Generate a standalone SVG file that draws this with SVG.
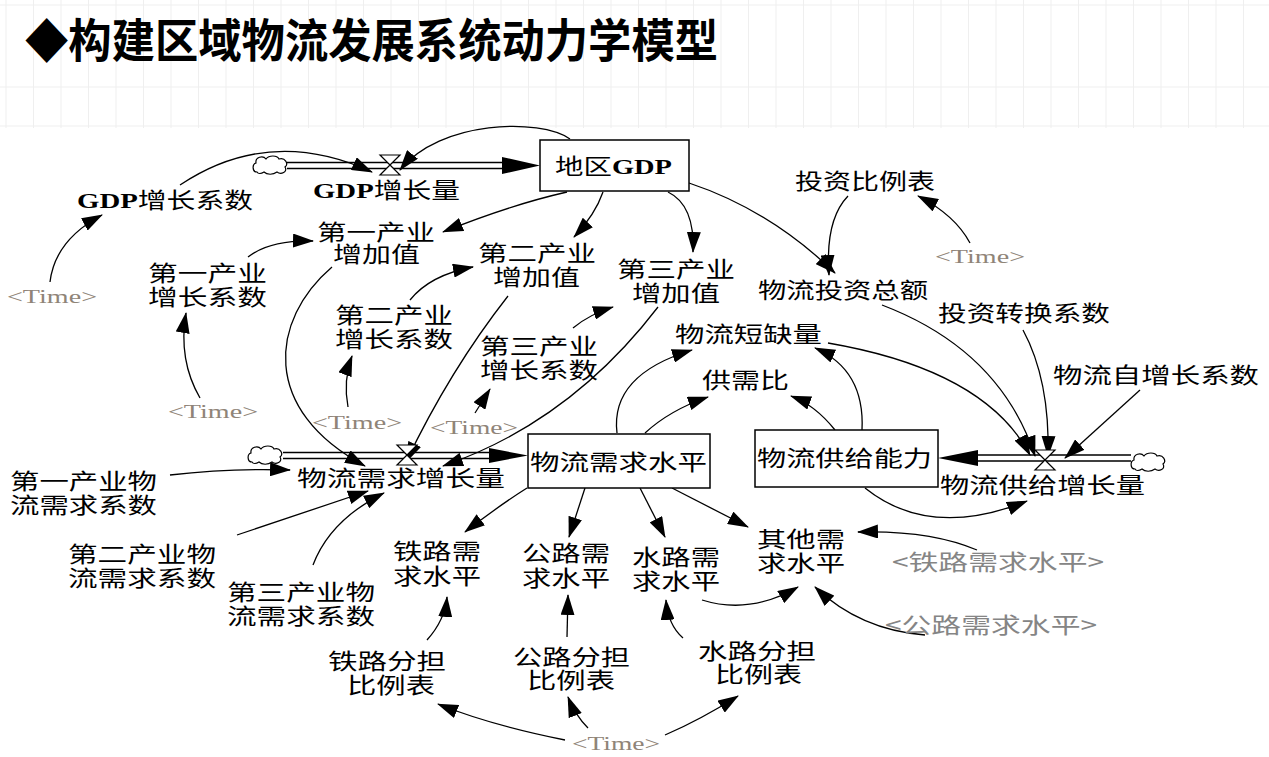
<svg xmlns="http://www.w3.org/2000/svg" width="1269" height="757" viewBox="0 0 1269 757">
<style>
.t{font-family:"Noto Sans CJK SC","Noto Sans",sans-serif;font-size:22px;fill:#000}
.g{font-family:"Liberation Serif","Noto Sans CJK SC",serif;font-weight:bold}
.tm{font-family:"Liberation Serif",serif;font-size:19px;fill:#8f8478}
.sh{fill:#858585}
.c{fill:none;stroke:#000;stroke-width:1.3;marker-end:url(#ah)}
.box{fill:#fff;stroke:#000;stroke-width:1.5}
.pipe{stroke:#000;stroke-width:1.3;fill:none}
.valve{fill:#fff;stroke:#000;stroke-width:1.2}
.cloud{fill:#fff;stroke:#000;stroke-width:1.2}
.big{fill:#000}
.grid{stroke:#efefef;stroke-width:1}
</style>
<defs>
<marker id="ah" markerUnits="userSpaceOnUse" markerWidth="21" markerHeight="14" refX="20" refY="7" orient="auto">
<path d="M0,0 L21,7 L0,14 Z" fill="#000"/>
</marker>
<path id="cloud" d="M5,17 C0,17 0,9 4,8 C3,2 11,0 14,4 C17,0 25,0 27,4 C33,2 37,9 33,12 C36,17 29,20 25,17 C21,20 15,20 12,17 C9,19 6,19 5,17 Z"/>
</defs>
<rect width="1269" height="757" fill="#fff"/>
<g id="grid">
<path class="grid" d="M6,0V128M33.5,0V128M61,0V128M88.5,0V128M116,0V128M143.5,0V128M171,0V128M198.5,0V128M226,0V128M253.5,0V128M281,0V128M308.5,0V128M336,0V128M363.5,0V128M391,0V128M418.5,0V128M446,0V128M473.5,0V128M501,0V128M528.5,0V128M556,0V128M583.5,0V128M611,0V128M638.5,0V128M666,0V128M693.5,0V128M721,0V128M748.5,0V128M776,0V128M803.5,0V128M831,0V128M858.5,0V128M886,0V128M913.5,0V128M941,0V128M968.5,0V128M996,0V128M1023.5,0V128M1051,0V128M1078.5,0V128M1106,0V128M1133.5,0V128M1161,0V128M1188.5,0V128M1216,0V128M1243.5,0V128M0,5H1269M0,87H1269M0,126H1269"/>
</g>
<g id="title">
<text x="25" y="57" font-family="'Noto Sans CJK SC',sans-serif" font-size="46" font-weight="bold" textLength="693" lengthAdjust="spacingAndGlyphs">◆构建区域物流发展系统动力学模型</text>
</g>
<g id="connectors">
<path class="c" d="M180,185 Q270,125 372,172"/>
<path class="c" d="M570,139 C540,118 440,120 400,170"/>
<path class="c" d="M50,282 Q55,240 102,215"/>
<path class="c" d="M567,192 Q510,205 443,232"/>
<path class="c" d="M603,192 Q595,215 574,237"/>
<path class="c" d="M668,192 Q695,205 693,252"/>
<path class="c" d="M689,183 Q770,210 835,273"/>
<path class="c" d="M848,196 Q825,220 829,275"/>
<path class="c" d="M970,243 Q955,215 918,196"/>
<path class="c" d="M248,257 Q270,240 313,241"/>
<path class="c" d="M200,398 Q178,360 186,313"/>
<path class="c" d="M410,300 Q430,275 473,267"/>
<path class="c" d="M348,407 Q343,380 352,356"/>
<path class="c" d="M573,328 Q590,314 613,307"/>
<path class="c" d="M475,413 L490,389"/>
<path class="c" d="M332,267 C270,320 260,410 365,466"/>
<path class="c" d="M508,296 Q450,370 406,462"/>
<path class="c" d="M658,307 Q570,422 443,466"/>
<path class="c" d="M170,475 Q230,468 290,470"/>
<path class="c" d="M237,535 L368,491"/>
<path class="c" d="M313,565 Q330,520 384,493"/>
<path class="c" d="M617,433 Q610,375 692,350"/>
<path class="c" d="M645,433 Q670,410 708,397"/>
<path class="c" d="M835,430 Q815,405 791,396"/>
<path class="c" d="M862,430 Q865,370 815,348"/>
<path class="c" d="M882,305 Q1000,350 1035,456"/>
<path class="c" d="M828,343 Q985,370 1030,455"/>
<path class="c" d="M1023,330 Q1050,380 1048,456"/>
<path class="c" d="M1140,390 L1065,458"/>
<path class="c" d="M865,488 Q930,540 1027,501"/>
<path class="c" d="M527,488 Q500,505 465,532"/>
<path class="c" d="M585,488 L569,537"/>
<path class="c" d="M640,488 L665,537"/>
<path class="c" d="M672,488 L748,527"/>
<path class="c" d="M702,600 Q750,615 798,587"/>
<path class="c" d="M977,550 Q930,530 858,532"/>
<path class="c" d="M925,635 Q860,630 815,587"/>
<path class="c" d="M427,640 Q445,620 447,597"/>
<path class="c" d="M567,637 L568,595"/>
<path class="c" d="M683,638 Q668,625 666,600"/>
<path class="c" d="M565,740 Q490,725 438,704"/>
<path class="c" d="M588,728 Q575,715 568,697"/>
<path class="c" d="M665,735 Q700,720 738,696"/>
</g>
<g id="flow-gdp">
<path class="pipe" d="M287,162.5H503M287,168.5H503"/>
<polygon class="big" points="502,157 540,165.5 502,174"/>
<use href="#cloud" x="252" y="155" class="cloud"/>
<path class="valve" d="M380,155 H400 L380,175 H400 Z"/>
<text class="t" x="313" y="198" textLength="147" lengthAdjust="spacingAndGlyphs"><tspan class="g">GDP</tspan>增长量</text>
</g>
<g id="stock-gdp">
<rect class="box" x="540" y="140" width="149" height="51"/>
<text class="t" x="555" y="174" textLength="117" lengthAdjust="spacingAndGlyphs">地区<tspan class="g">GDP</tspan></text>
</g>
<g id="gdp-coef">
<text class="t" x="77" y="208" textLength="176" lengthAdjust="spacingAndGlyphs"><tspan class="g">GDP</tspan>增长系数</text>
</g>
<g id="time1"><text class="tm" x="7" y="303" textLength="90" lengthAdjust="spacingAndGlyphs">&lt;Time&gt;</text></g>
<g id="va1">
<text class="t"><tspan x="317" y="240" textLength="118" lengthAdjust="spacingAndGlyphs">第一产业</tspan><tspan x="333" y="262" textLength="87" lengthAdjust="spacingAndGlyphs">增加值</tspan></text>
</g>
<g id="gc1">
<text class="t"><tspan x="148" y="281" textLength="119" lengthAdjust="spacingAndGlyphs">第一产业</tspan><tspan x="148" y="305" textLength="119" lengthAdjust="spacingAndGlyphs">增长系数</tspan></text>
</g>
<g id="time2"><text class="tm" x="168" y="418" textLength="90" lengthAdjust="spacingAndGlyphs">&lt;Time&gt;</text></g>
<g id="va2">
<text class="t"><tspan x="478" y="261" textLength="118" lengthAdjust="spacingAndGlyphs">第二产业</tspan><tspan x="493" y="285" textLength="87" lengthAdjust="spacingAndGlyphs">增加值</tspan></text>
</g>
<g id="gc2">
<text class="t"><tspan x="335" y="323" textLength="118" lengthAdjust="spacingAndGlyphs">第二产业</tspan><tspan x="335" y="347" textLength="118" lengthAdjust="spacingAndGlyphs">增长系数</tspan></text>
</g>
<g id="time3"><text class="tm" x="312" y="429" textLength="90" lengthAdjust="spacingAndGlyphs">&lt;Time&gt;</text></g>
<g id="va3">
<text class="t"><tspan x="617" y="277" textLength="118" lengthAdjust="spacingAndGlyphs">第三产业</tspan><tspan x="632" y="301" textLength="88" lengthAdjust="spacingAndGlyphs">增加值</tspan></text>
</g>
<g id="gc3">
<text class="t"><tspan x="480" y="354" textLength="118" lengthAdjust="spacingAndGlyphs">第三产业</tspan><tspan x="480" y="378" textLength="118" lengthAdjust="spacingAndGlyphs">增长系数</tspan></text>
</g>
<g id="time4"><text class="tm" x="430" y="434" textLength="88" lengthAdjust="spacingAndGlyphs">&lt;Time&gt;</text></g>
<g id="flow-demand">
<path class="pipe" d="M283,452.5H490M283,458.5H490"/>
<polygon class="big" points="489,448 528,455.5 489,463"/>
<use href="#cloud" x="247" y="445" class="cloud"/>
<path class="valve" d="M397,445 H417 L397,465 H417 Z"/>
<text class="t" x="297" y="486" textLength="208" lengthAdjust="spacingAndGlyphs">物流需求增长量</text>
</g>
<g id="dc1">
<text class="t"><tspan x="10" y="489" textLength="147" lengthAdjust="spacingAndGlyphs">第一产业物</tspan><tspan x="10" y="513" textLength="147" lengthAdjust="spacingAndGlyphs">流需求系数</tspan></text>
</g>
<g id="dc2">
<text class="t"><tspan x="68" y="562" textLength="148" lengthAdjust="spacingAndGlyphs">第二产业物</tspan><tspan x="68" y="586" textLength="148" lengthAdjust="spacingAndGlyphs">流需求系数</tspan></text>
</g>
<g id="dc3">
<text class="t"><tspan x="227" y="600" textLength="148" lengthAdjust="spacingAndGlyphs">第三产业物</tspan><tspan x="227" y="624" textLength="148" lengthAdjust="spacingAndGlyphs">流需求系数</tspan></text>
</g>
<g id="stock-demand">
<rect class="box" x="528" y="434" width="182" height="54"/>
<text class="t" x="530" y="470" textLength="177" lengthAdjust="spacingAndGlyphs">物流需求水平</text>
</g>
<g id="shortage"><text class="t" x="675" y="342" textLength="147" lengthAdjust="spacingAndGlyphs">物流短缺量</text></g>
<g id="ratio"><text class="t" x="702" y="388" textLength="87" lengthAdjust="spacingAndGlyphs">供需比</text></g>
<g id="stock-supply">
<rect class="box" x="755" y="430" width="183" height="57"/>
<text class="t" x="757" y="466" textLength="175" lengthAdjust="spacingAndGlyphs">物流供给能力</text>
</g>
<g id="flow-supply">
<path class="pipe" d="M976,455H1131M976,461H1131"/>
<polygon class="big" points="978,450 938,458 978,466"/>
<use href="#cloud" x="1130" y="452" class="cloud"/>
<path class="valve" d="M1035,450 H1055 L1035,470 H1055 Z"/>
<text class="t" x="940" y="493" textLength="205" lengthAdjust="spacingAndGlyphs">物流供给增长量</text>
</g>
<g id="invtable"><text class="t" x="795" y="189" textLength="140" lengthAdjust="spacingAndGlyphs">投资比例表</text></g>
<g id="time5"><text class="tm" x="935" y="263" textLength="90" lengthAdjust="spacingAndGlyphs">&lt;Time&gt;</text></g>
<g id="invtotal"><text class="t" x="758" y="298" textLength="170" lengthAdjust="spacingAndGlyphs">物流投资总额</text></g>
<g id="invconv"><text class="t" x="938" y="321" textLength="172" lengthAdjust="spacingAndGlyphs">投资转换系数</text></g>
<g id="selfgrow"><text class="t" x="1053" y="383" textLength="206" lengthAdjust="spacingAndGlyphs">物流自增长系数</text></g>
<g id="rail">
<text class="t"><tspan x="393" y="559" textLength="88" lengthAdjust="spacingAndGlyphs">铁路需</tspan><tspan x="393" y="584" textLength="88" lengthAdjust="spacingAndGlyphs">求水平</tspan></text>
</g>
<g id="road">
<text class="t"><tspan x="522" y="561" textLength="88" lengthAdjust="spacingAndGlyphs">公路需</tspan><tspan x="522" y="586" textLength="88" lengthAdjust="spacingAndGlyphs">求水平</tspan></text>
</g>
<g id="water">
<text class="t"><tspan x="632" y="565" textLength="88" lengthAdjust="spacingAndGlyphs">水路需</tspan><tspan x="632" y="589" textLength="88" lengthAdjust="spacingAndGlyphs">求水平</tspan></text>
</g>
<g id="other">
<text class="t"><tspan x="757" y="547" textLength="88" lengthAdjust="spacingAndGlyphs">其他需</tspan><tspan x="757" y="571" textLength="88" lengthAdjust="spacingAndGlyphs">求水平</tspan></text>
</g>
<g id="rail-shadow"><text class="t sh" x="892" y="570" textLength="212" lengthAdjust="spacingAndGlyphs">&lt;铁路需求水平&gt;</text></g>
<g id="road-shadow"><text class="t sh" x="885" y="633" textLength="212" lengthAdjust="spacingAndGlyphs">&lt;公路需求水平&gt;</text></g>
<g id="railshare">
<text class="t"><tspan x="328" y="669" textLength="118" lengthAdjust="spacingAndGlyphs">铁路分担</tspan><tspan x="347" y="693" textLength="88" lengthAdjust="spacingAndGlyphs">比例表</tspan></text>
</g>
<g id="roadshare">
<text class="t"><tspan x="513" y="665" textLength="117" lengthAdjust="spacingAndGlyphs">公路分担</tspan><tspan x="527" y="688" textLength="88" lengthAdjust="spacingAndGlyphs">比例表</tspan></text>
</g>
<g id="watershare">
<text class="t"><tspan x="698" y="659" textLength="118" lengthAdjust="spacingAndGlyphs">水路分担</tspan><tspan x="715" y="682" textLength="87" lengthAdjust="spacingAndGlyphs">比例表</tspan></text>
</g>
<g id="time6"><text class="tm" x="572" y="750" textLength="88" lengthAdjust="spacingAndGlyphs">&lt;Time&gt;</text></g>
</svg>
